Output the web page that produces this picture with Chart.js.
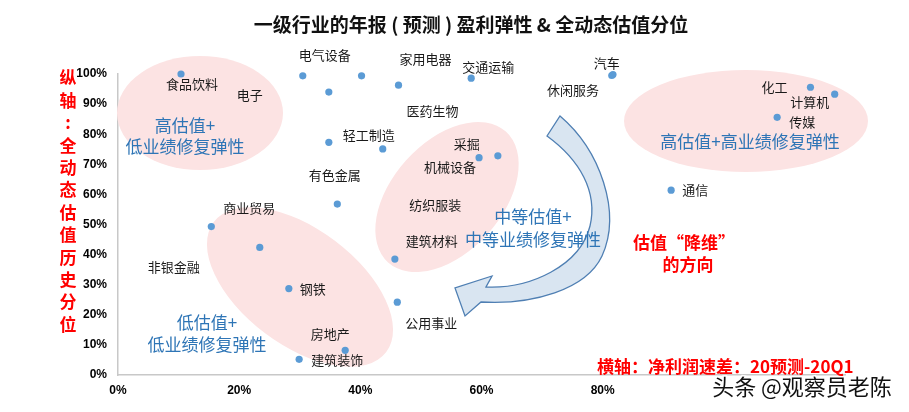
<!DOCTYPE html>
<html>
<head>
<meta charset="utf-8">
<script src="https://cdn.jsdelivr.net/npm/chart.js@4"></script>
<style>
  html, body { margin: 0; padding: 0; background: #fff; }
  #wrap { width: 909px; height: 412px; }
</style>
</head>
<body>
<div id="wrap"><canvas id="myChart" width="909" height="412"></canvas></div>
<script>
// 横轴: 净利润速差 (20预测-20Q1), 纵轴: 全动态估值历史分位
const industries = ['食品饮料', '电气设备', '电子', '医药生物', '家用电器', '交通运输', '汽车', '休闲服务',
    '有色金属', '轻工制造', '机械设备', '采掘', '纺织服装', '化工', '计算机', '传媒', '通信',
    '商业贸易', '非银金融', '钢铁', '建筑装饰', '建筑材料', '公用事业', '房地产'];
const profitGap = [10.4, 30.5, 34.8, 40.2, 46.3, 58.3, 81.5, 81.7,
    34.8, 43.7, 59.6, 62.7, 36.2, 114.3, 118.3, 108.8, 91.3,
    15.4, 23.4, 28.2, 29.9, 45.7, 46.1, 37.5];
const valuationPct = [100, 99.4, 94.0, 99.4, 96.3, 98.6, 99.5, 99.8,
    77.3, 75.1, 72.2, 72.8, 56.8, 95.6, 93.3, 85.6, 61.4,
    49.3, 42.4, 28.7, 5.2, 38.5, 24.2, 8.2];
const xTicks = [0, 20, 40, 60, 80];

// label offsets from each point (px)
const labelOffsets = [[11, 10], [22, -21], [-79, 3], [71, 35], [27, -26], [17, -11], [-5, -12], [-40, 15],
    [6, 33], [-14, -14], [-29, 9], [-31, -12], [98, 1], [-36, 0], [-25, 8], [25, 5], [24, 0],
    [38, -19], [-86, 20], [24, 0], [38, 1], [37, -18], [34, 21], [-15, -16]];

const CJK = '"Noto Sans CJK SC", sans-serif';

const decorPlugin = {
    id: 'decor',
    beforeDatasetsDraw(chart) {
        const ctx = chart.ctx;
        ctx.save();
        ctx.fillStyle = '#fce3e3';
        const ell = (x, y, rx, ry, rot) => {
            ctx.beginPath();
            ctx.ellipse(x, y, rx, ry, rot, 0, Math.PI * 2);
            ctx.fill();
        };
        ell(200, 113, 83, 57, 0);
        ell(746, 121, 122, 51, 0);
        ell(447, 197, 88, 55, -48 * Math.PI / 180);
        ell(300, 287, 108, 58, 37 * Math.PI / 180);

        // curved arrow
        ctx.beginPath();
        ctx.moveTo(560, 116);
        ctx.bezierCurveTo(600, 150, 622, 212, 602, 256);
        ctx.bezierCurveTo(586, 290, 532, 305, 481, 302);
        ctx.lineTo(465, 316);
        ctx.lineTo(455, 288);
        ctx.lineTo(492, 276);
        ctx.lineTo(486, 287);
        ctx.bezierCurveTo(530, 289, 580, 266, 590, 226);
        ctx.bezierCurveTo(598, 192, 580, 160, 547, 136);
        ctx.closePath();
        ctx.fillStyle = '#d9e5f1';
        ctx.fill();
        ctx.strokeStyle = '#4f7fb3';
        ctx.lineWidth = 1.3;
        ctx.stroke();
        ctx.restore();
    },
    afterDatasetsDraw(chart) {
        const ctx = chart.ctx;
        const meta = chart.getDatasetMeta(0);
        ctx.save();
        ctx.textAlign = 'center';
        ctx.textBaseline = 'middle';
        ctx.fillStyle = '#1a1a1a';
        ctx.font = '13px ' + CJK;
        meta.data.forEach((pt, i) => {
            const [dx, dy] = labelOffsets[i];
            ctx.fillText(industries[i], pt.x + dx, pt.y + dy);
        });

        // title
        ctx.font = 'bold 19px ' + CJK;
        ctx.fillStyle = '#111';
        ctx.fillText('一级行业的年报 ( 预测 ) 盈利弹性 & 全动态估值分位', 471, 25);

        // blue notes
        ctx.font = '17px ' + CJK;
        ctx.fillStyle = '#2e75b6';
        ctx.fillText('高估值+', 185, 126);
        ctx.fillText('低业绩修复弹性', 185, 147);
        ctx.fillText('中等估值+', 533, 217);
        ctx.fillText('中等业绩修复弹性', 533, 240);
        ctx.fillText('高估值+高业绩修复弹性', 750, 142);
        ctx.fillText('低估值+', 207, 323);
        ctx.fillText('低业绩修复弹性', 207, 345);

        // red notes
        ctx.fillStyle = '#ff0000';
        ctx.font = 'bold 17px ' + CJK;
        ctx.fillText('估值“降维”', 684, 243);
        ctx.fillText('的方向', 688, 265);
        ctx.textAlign = 'left';
        ctx.fillText('横轴：净利润速差：20预测-20Q1', 597, 367);

        // vertical axis title
        ctx.textAlign = 'center';
        ctx.font = 'bold 17px ' + CJK;
        const ytitle = '纵轴：全动态估值历史分位';
        [...ytitle].forEach((ch, i) => {
            ctx.fillText(ch === '：' ? ':' : ch, 68, 78 + i * 22.4);
        });

        // watermark
        ctx.font = '22px ' + CJK;
        ctx.lineWidth = 3;
        ctx.strokeStyle = '#ffffff';
        ctx.strokeText('头条 @观察员老陈', 802, 387);
        ctx.fillStyle = '#111';
        ctx.fillText('头条 @观察员老陈', 802, 387);
        ctx.restore();
    }
};

const tickFont = { family: '"Liberation Sans", Arial, sans-serif', size: 12, weight: 'bold' };

new Chart(document.getElementById('myChart').getContext('2d'), {
    type: 'scatter',
    data: {
        datasets: [{
            data: profitGap.map((x, i) => ({ x, y: valuationPct[i] })),
            pointRadius: 3.6,
            pointHoverRadius: 3.6,
            backgroundColor: '#5b9bd5',
            borderWidth: 0,
            clip: false,
        }]
    },
    options: {
        responsive: false,
        animation: false,
        layout: { padding: { left: 0, right: 64, top: 74, bottom: 0 } },
        plugins: { legend: { display: false }, tooltip: { enabled: false } },
        scales: {
            x: {
                type: 'linear',
                min: 0,
                max: 120,
                afterBuildTicks: (s) => { s.ticks = xTicks.map((v) => ({ value: v })); },
                ticks: { callback: (v) => v + '%', font: tickFont, color: '#000', padding: 8 },
                grid: { display: false, drawTicks: false },
                border: { color: '#c8c8c8', width: 1.5 },
                afterFit: (s) => { s.height = 37; },
            },
            y: {
                min: 0,
                max: 100,
                ticks: { stepSize: 10, callback: (v) => v + '%', font: tickFont, color: '#000', padding: 11 },
                grid: { display: false, drawTicks: false },
                border: { color: '#c8c8c8', width: 1.5 },
                afterFit: (s) => { s.width = 118; },
            },
        },
    },
    plugins: [decorPlugin],
});
</script>
</body>
</html>
